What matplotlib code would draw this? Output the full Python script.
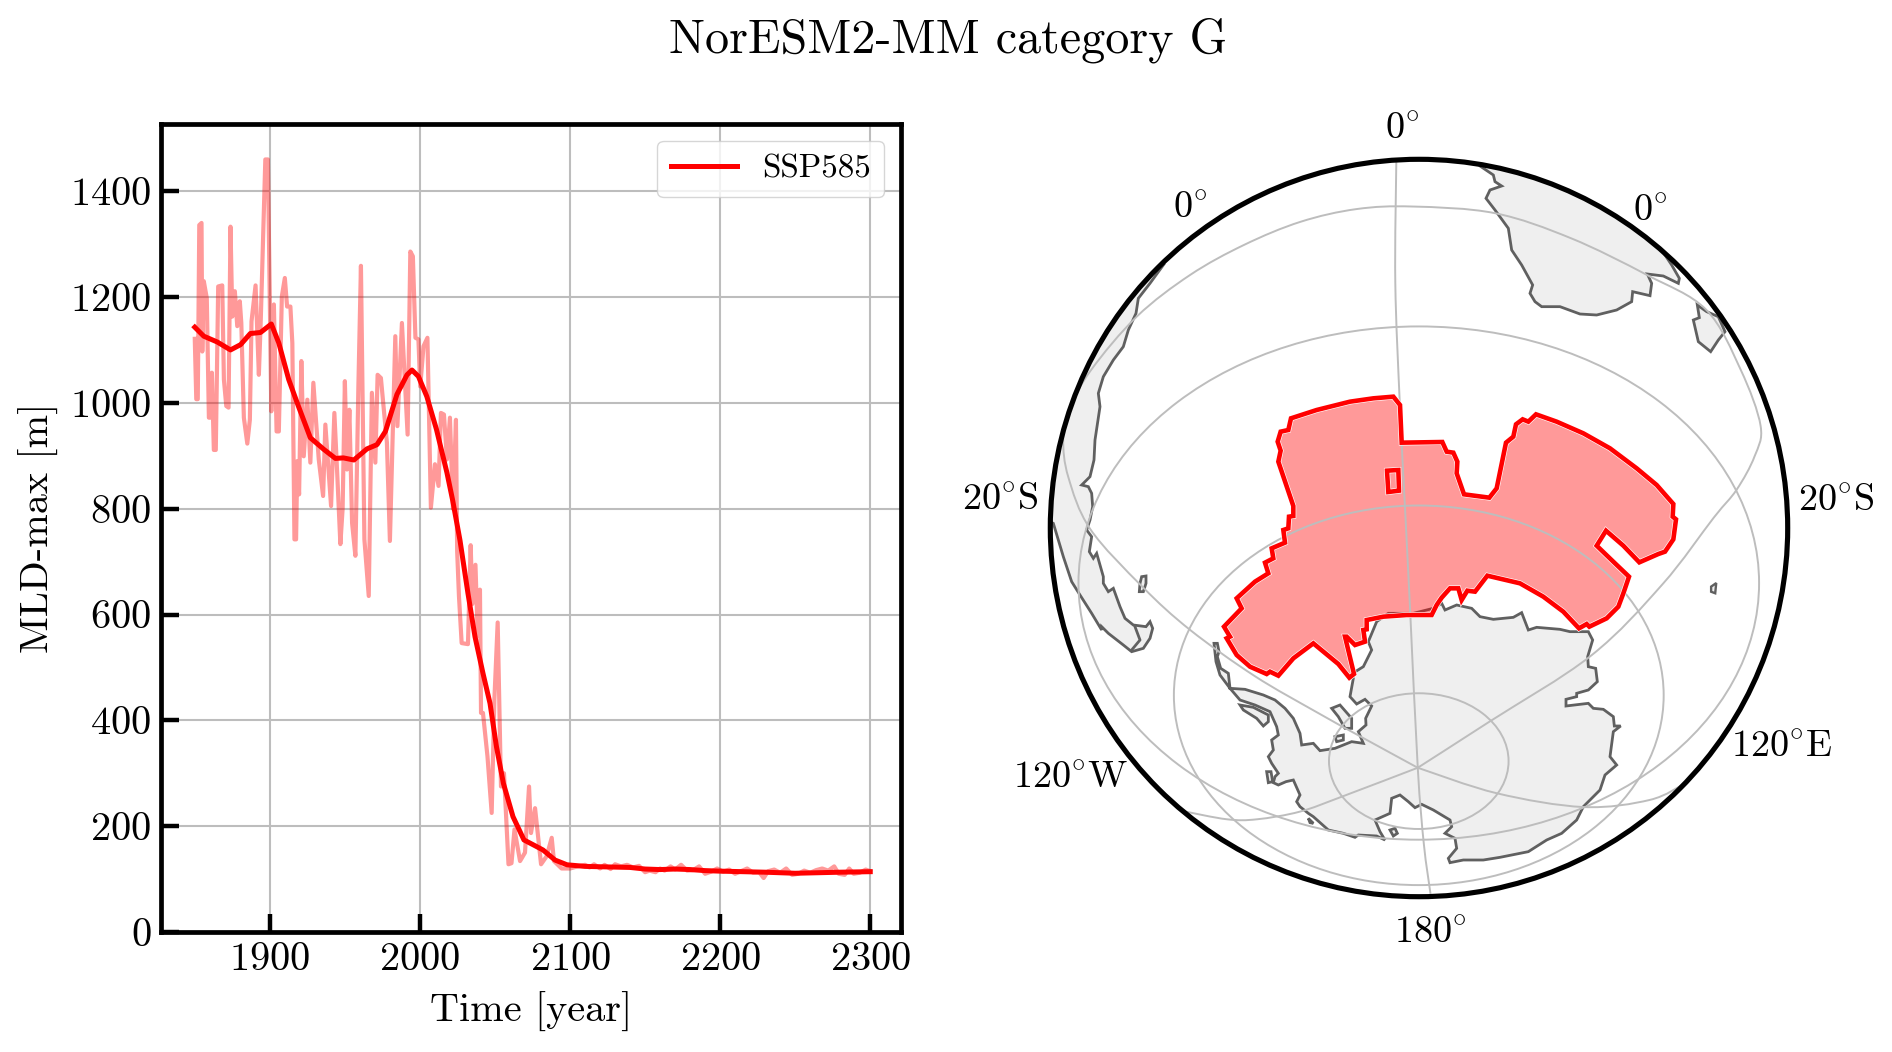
''' NorESM2-MM category G: MLD-max time series and the map of the region. '''
import numpy as np
from matplotlib import pyplot as plt
from matplotlib.patches import Circle, Ellipse, PathPatch
from matplotlib.path import Path

plt.rcParams["font.family"] = ["cmr10", "DejaVu Serif"]
plt.rcParams["mathtext.fontset"] = "cm"
plt.rcParams["axes.formatter.use_mathtext"] = True
plt.rcParams["axes.unicode_minus"] = False

# yearly values
years = [1850, 1851, 1852, 1853, 1854.5, 1855, 1856, 1858, 1859.4, 1860.5, 1861.4, 1862.7, 1864, 1865.6, 1868.3,
         1869.4, 1871, 1872.5, 1873.8, 1875, 1876.7, 1878.3, 1880, 1881, 1882.7, 1885, 1886.7, 1887.8, 1890.5,
         1892.7, 1894, 1897, 1898.7, 1901, 1902.7, 1904.5, 1906, 1908, 1910, 1911.5, 1913.7, 1915, 1916.4, 1917.5,
         1918.3, 1919.5, 1921, 1922.6, 1925, 1927, 1929, 1932.6, 1935.5, 1937, 1940.8, 1943, 1945, 1947, 1948.5,
         1950, 1951.4, 1953, 1954.8, 1957, 1959, 1960.7, 1963, 1965.9, 1968, 1970.3, 1971.8, 1974, 1978, 1980,
         1983.6, 1985, 1988, 1991.8, 1993.6, 1995.3, 1997, 1999, 2000.2, 2002.4, 2005, 2007.3, 2010, 2012.4, 2014,
         2016, 2018, 2020, 2022, 2024, 2024.8, 2026, 2027.8, 2032, 2033.8, 2035, 2037, 2038.5, 2040, 2040.7, 2042,
         2045, 2047.8, 2049.6, 2051.8, 2054, 2056, 2059, 2061, 2063, 2066.7, 2070, 2072.7, 2074, 2076.7, 2080.7,
         2084.4, 2087.8, 2089.3, 2094.4,
         2100, 2105, 2110, 2113, 2116, 2120, 2123, 2127, 2130, 2134, 2138, 2142, 2146, 2150, 2153, 2157, 2160,
         2163, 2167, 2170, 2174, 2178, 2182, 2186, 2190, 2194, 2198, 2202, 2206, 2210, 2214, 2218, 2222, 2226,
         2229, 2232, 2236, 2240, 2244, 2248, 2252, 2256, 2260, 2264, 2268, 2272, 2276, 2279, 2283, 2286, 2289,
         2293, 2297, 2300]
mld = [1121, 1007, 1007, 1336, 1340, 1097, 1230, 1198, 972, 972, 1057, 911, 911, 1220, 1222,
       1044, 994, 991, 1333, 1163, 1211, 1145, 1192, 1151, 972, 923, 968, 1154, 1222,
       1053, 1160, 1460, 1460, 984, 1186, 946, 946, 1201, 1236, 1182, 1182, 1113, 742, 742,
       890, 827, 1079, 899, 1006, 887, 1038, 893, 824, 959, 805, 981, 860, 733, 800,
       1041, 874, 987, 773, 711, 1031, 1259, 742, 635, 1019, 887, 1053, 1047, 925, 739,
       1126, 956, 1151, 940, 1286, 1277, 1123, 1120, 1031, 1107, 1123, 802, 884, 843, 981,
       978, 893, 972, 800, 968, 720, 635, 546, 544, 731, 620, 694, 560, 647, 414, 414,
       332, 225, 439, 585, 275, 300, 128, 130, 194, 134, 150, 275, 187, 234, 128,
       143, 178, 134, 120,
       120, 124, 127, 122, 128, 120, 127, 119, 128, 124, 127, 122, 125, 113, 116, 113, 120,
       116, 124, 118, 127, 116, 117, 124, 110, 114, 120, 114, 118, 110, 115, 120, 112, 113,
       102, 115, 118, 112, 120, 108, 110, 116, 112, 117, 120, 116, 124, 110, 108, 120, 110,
       112, 118, 115]

# smoothed series
years_smooth = [1850, 1856, 1865, 1873.8, 1880.5, 1887, 1893.8, 1901, 1906, 1912.6, 1919, 1927, 1936, 1943.7, 1949,
                1956, 1964.7, 1971.4, 1977, 1984.7, 1991.4, 1994.7, 1999, 2004.6, 2011, 2018, 2021.8, 2026.7, 2032,
                2036.7, 2042, 2046.7, 2051, 2055.6, 2062, 2069.3, 2076.7, 2082, 2090, 2098,
                2110, 2125, 2140, 2150, 2160, 2170, 2180, 2190, 2200, 2215, 2230, 2250, 2265, 2280, 2300]
mld_smooth = [1143, 1126, 1115, 1100, 1110, 1131, 1133, 1149, 1113, 1044, 994, 934, 912, 895, 896,
              892, 913, 921, 946, 1016, 1053, 1062, 1050, 1012, 950, 868, 816, 740, 640,
              558, 489, 432, 350, 281, 218, 174, 163, 155, 136, 127,
              124, 123, 122, 119, 118, 119, 118, 116, 115, 114, 113, 111, 112, 113, 114]

xticks = [1900, 2000, 2100, 2200, 2300]
yticks = [0, 200, 400, 600, 800, 1000, 1200, 1400]

# map outlines, traced in crops of the picture: (x0, y0) is the corner of the crop
region = [(550, 50), (570, 75), (575, 188), (697, 186), (710, 215), (730, 218), (742, 245), (740, 280), (762, 343),
          (838, 353), (860, 325), (888, 188), (910, 170), (918, 133), (938, 118), (955, 125), (978, 103), (1040, 125),
          (1120, 160), (1200, 205), (1280, 265), (1340, 315), (1390, 372), (1388, 410), (1398, 418), (1390, 478),
          (1365, 515), (1345, 522), (1288, 547), (1240, 497), (1188, 452), (1160, 497), (1215, 550), (1257, 590),
          (1240, 640), (1225, 680), (1190, 715), (1138, 740), (1130, 732), (1107, 745), (1060, 695), (1000, 650),
          (930, 610), (832, 587), (795, 635), (772, 632), (755, 660), (745, 625), (720, 625), (695, 653), (680, 675),
          (665, 705), (590, 705), (520, 710), (470, 720), (470, 748), (460, 750), (465, 785), (435, 795), (410, 770),
          (405, 770), (432, 882), (418, 893), (385, 852), (310, 790), (250, 835), (205, 887), (180, 875), (170, 882),
          (120, 860), (80, 825), (50, 775), (60, 770), (42, 740), (95, 685), (80, 655), (135, 605), (175, 580),
          (165, 548), (190, 535), (185, 505), (225, 488), (220, 450), (235, 445), (237, 410), (250, 408), (250, 378),
          (205, 245), (212, 212), (203, 185), (212, 155), (235, 150), (243, 115), (320, 90), (420, 65), (490, 55)]
region_hole = [(531, 272), (565, 270), (567, 332), (535, 336)]

antarctica = [(42, 130), (52, 130), (57, 155), (52, 170), (62, 205), (85, 220), (90, 265), (135, 268),
              (190, 285), (225, 300), (255, 325), (280, 355), (300, 400), (305, 435), (340, 430),
              (360, 452), (405, 445), (455, 425), (490, 430), (475, 395), (498, 375), (497, 355), (515, 318),
              (495, 298), (470, 312), (450, 290), (460, 235), (450, 225), (490, 200), (515, 150), (505, 125),
              (530, 65), (565, 40), (640, 40), (700, 25), (725, 10), (735, 30), (770, 15), (815, 25), (840, 50),
              (880, 58), (940, 52), (965, 38), (985, 90), (1010, 82), (1080, 88), (1110, 95), (1165, 95), (1178, 120),
              (1163, 170), (1165, 200), (1187, 205), (1192, 245), (1165, 270), (1130, 280), (1130, 290), (1098, 298),
              (1098, 318), (1165, 310), (1180, 325), (1210, 328), (1240, 350), (1243, 378), (1262, 378), (1240, 395),
              (1230, 470), (1250, 495), (1215, 525), (1200, 570), (1150, 620), (1130, 660), (1085, 700), (1040, 720),
              (985, 755), (900, 772), (850, 780), (790, 780), (750, 788), (745, 775), (770, 745), (765, 715),
              (735, 700), (755, 680), (750, 660), (700, 630), (665, 613), (645, 623), (625, 605), (600, 585),
              (575, 595), (570, 640), (525, 660), (540, 695), (555, 720), (530, 708),
              (475, 705), (465, 712), (430, 700), (385, 690), (340, 650), (325, 640), (300, 620), (290, 605),
              (300, 585), (280, 540), (258, 545), (235, 555), (220, 548), (225, 530), (235, 520), (215, 490),
              (205, 470), (220, 450), (215, 420), (235, 405), (230, 380), (210, 335), (165, 315), (120, 300),
              (90, 265), (60, 225), (48, 185)]
alexander_island = [(120, 315), (160, 322), (205, 345), (205, 365), (190, 378), (170, 355), (130, 330)]
berkner_island = [(395, 325), (420, 315), (455, 355), (455, 385), (435, 385), (415, 350)]
small_island_a = [(405, 410), (430, 405), (430, 420), (410, 425)]
small_island_b = [(200, 515), (213, 515), (218, 545), (205, 548)]
small_island_c = [(325, 655), (340, 670), (330, 668)]
roosevelt_island = [(570, 690), (585, 685), (592, 700), (580, 708)]

africa = [(120, 48), (160, 75), (165, 95), (185, 108), (150, 120), (138, 145), (165, 180), (205, 235), (215, 300),
          (245, 345), (278, 405), (270, 430), (285, 455), (305, 470), (360, 470), (420, 492), (470, 495), (530, 480),
          (575, 455), (578, 425), (630, 437), (635, 400), (622, 372), (670, 378), (715, 400), (718, 385), (695, 345),
          (675, 315), (700, 280), (500, 150), (300, 50), (120, 20)]
madagascar = [(772, 465), (800, 485), (835, 500), (855, 545), (835, 570), (812, 605), (775, 575), (760, 510), (778, 503)]

south_america = [(370, 45), (330, 100), (295, 145), (288, 190), (265, 240), (250, 290), (220, 330), (190, 380),
                 (175, 430), (180, 470), (165, 570), (162, 630), (150, 680), (125, 705), (145, 710), (155, 730),
                 (158, 770), (150, 810), (140, 840), (155, 860), (148, 905), (160, 925), (170, 910), (190, 980),
                 (190, 1000), (205, 1025), (220, 1015), (240, 1070), (255, 1105), (280, 1125), (318, 1130), (330, 1115),
                 (338, 1135), (330, 1165), (310, 1195), (275, 1205), (250, 1185), (205, 1150), (185, 1130), (185, 1140),
                 (155, 1090), (120, 1035), (95, 995), (70, 920), (40, 820), (0, 800), (0, 600), (80, 350), (300, 40)]
tierra_del_fuego = [(285, 1130), (300, 1170), (275, 1200)]
falklands = [(305, 980), (318, 978), (318, 1000), (310, 1025), (298, 1025), (300, 1000)]
kerguelen = [(1335, 895), (1345, 888), (1343, 908), (1335, 905)]

# graticule, traced as well
meridian_top = [(718, 60), (716, 300), (725, 540), (735, 740), (745, 940), (760, 1250), (772, 1400), (785, 1497)]
meridian_loop = [(760, 1250), (900, 1160), (1100, 1030), (1240, 890), (1340, 760), (1385, 705), (1420, 640), (1432, 580),
                 (1393, 470), (1325, 352), (1209, 284), (1060, 212), (911, 163), (750, 150), (640, 155), (530, 180),
                 (420, 225), (314, 284), (210, 365), (120, 470), (75, 550), (65, 606), (75, 680), (118, 782),
                 (220, 895), (314, 980), (440, 1070), (560, 1140), (650, 1190), (760, 1250)]
meridian_right = [(760, 1250), (915, 1300), (1085, 1327), (1215, 1313), (1285, 1280)]
meridian_left = [(760, 1250), (613, 1306), (529, 1336), (445, 1351), (386, 1351), (300, 1335)]
parallels = [(762, 1237, 176, 133), (762, 1108, 480, 372), (762, 888, 667, 503)]  # x, y, half width, half height

map_labels = [("0$^{\\circ}$", 1402, 129), ("0$^{\\circ}$", 1190, 208), ("0$^{\\circ}$", 1650, 211),
              ("20$^{\\circ}$S", 1000, 500), ("20$^{\\circ}$S", 1836, 501), ("120$^{\\circ}$E", 1782, 747),
              ("120$^{\\circ}$W", 1071, 778), ("180$^{\\circ}$", 1430, 933)]


def to_px(pts, x0, y0, scale=3.0):
    return [(x0 + x / scale, y0 + y / scale) for x, y in pts]


def smooth_path(pts):
    # Catmull-Rom through the traced points, so that the graticule does not look angular
    p = np.array(pts)
    verts, codes = [p[0]], [Path.MOVETO]
    for i in range(len(p) - 1):
        a = p[max(i - 1, 0)]
        d = p[min(i + 2, len(p) - 1)]
        verts += [p[i] + (p[i + 1] - a) / 6, p[i + 1] - (d - p[i]) / 6, p[i + 1]]
        codes += [Path.CURVE4] * 3
    return Path(verts, codes)


fig = plt.figure(figsize=(18.92, 10.52), dpi=100)
fig.text(948 / 1892, 1 - 40 / 1052, "NorESM2-MM category G", ha="center", va="center", fontsize=34.6)

# left panel
ax1 = fig.add_axes([161 / 1892, 1 - 932 / 1052, 740 / 1892, 808 / 1052])
ax1.plot(years, mld, color="red", alpha=0.4, lw=3.0)
ax1.plot(years_smooth, mld_smooth, color="red", lw=3.6, label="SSP585")
ax1.set_xlim(1827.5, 2320.5)
ax1.set_ylim(0, 1527)
ax1.set_xticks(xticks)
ax1.set_yticks(yticks)
ax1.grid(color="#bdbdbd", lw=1.5)
ax1.tick_params(direction="in", length=13, width=3.2, labelsize=29, pad=7)
for side in ax1.spines.values():
    side.set_linewidth(3.4)
ax1.set_xlabel("Time [year]", fontsize=29, labelpad=10)
ax1.set_ylabel("MLD-max [m]", fontsize=29, labelpad=8)
ax1.legend(loc="upper right", fontsize=23.8, handlelength=2.0, handletextpad=0.75, borderpad=0.42, borderaxespad=0.5)

# right panel, in the pixel units of the figure
ax2 = fig.add_axes([0, 0, 1, 1])
ax2.set_xlim(0, 1892)
ax2.set_ylim(1052, 0)
ax2.axis("off")
globe = Circle((1419, 528), 368.7, transform=ax2.transData)

land = [(antarctica, 1200, 600), (alexander_island, 1200, 600), (berkner_island, 1200, 600),
        (small_island_a, 1200, 600), (small_island_b, 1200, 600), (small_island_c, 1200, 600),
        (roosevelt_island, 1200, 600), (africa, 1440, 150), (madagascar, 1440, 150),
        (south_america, 1040, 250), (falklands, 1040, 250)]
for pts, x0, y0 in land:
    xy = np.array(to_px(pts, x0, y0))
    for art in ax2.fill(xy[:, 0], xy[:, 1], facecolor="#efefef", edgecolor="#606060", lw=2.0, zorder=1):
        art.set_clip_path(globe)
xy = np.array(to_px(kerguelen, 1030, 130, 1.96))
ax2.fill(xy[:, 0], xy[:, 1], facecolor="#efefef", edgecolor="#606060", lw=1.7, zorder=1)
xy = np.array(to_px(tierra_del_fuego, 1040, 250))
ax2.plot(xy[:, 0], xy[:, 1], color="#606060", lw=2.0, zorder=1)

outer = np.array(to_px(region, 1210, 380))
hole = np.array(to_px(region_hole, 1210, 380))
shape = Path.make_compound_path(Path(np.vstack([outer, outer[:1]]), closed=True),
                                Path(np.vstack([hole, hole[:1]]), closed=True))
ax2.add_patch(PathPatch(shape, facecolor="red", alpha=0.4, lw=0, zorder=2))

for line in (meridian_top, meridian_loop, meridian_right, meridian_left):
    patch = PathPatch(smooth_path(to_px(line, 1030, 130, 1.96)), facecolor="none", edgecolor="#bdbdbd", lw=1.4, zorder=3)
    ax2.add_patch(patch)
    patch.set_clip_path(globe)
for x, y, a, b in parallels:
    cx, cy = to_px([(x, y)], 1030, 130, 1.96)[0]
    patch = Ellipse((cx, cy), 2 * a / 1.96, 2 * b / 1.96, facecolor="none", edgecolor="#bdbdbd", lw=1.4, zorder=3)
    ax2.add_patch(patch)
    patch.set_clip_path(globe)

# thin white rim between the fill and the red outline
ax2.add_patch(PathPatch(shape, facecolor="none", edgecolor="white", lw=4.2, zorder=3.5))
ax2.add_patch(PathPatch(shape, facecolor="none", edgecolor="red", lw=3.3, zorder=4))
ax2.add_patch(Circle((1419, 528), 368.7, facecolor="none", edgecolor="black", lw=3.7, zorder=5))

for label, x, y in map_labels:
    ax2.text(x, y, label, ha="center", va="center", fontsize=27.5)

plt.savefig("out.png", dpi=100)
